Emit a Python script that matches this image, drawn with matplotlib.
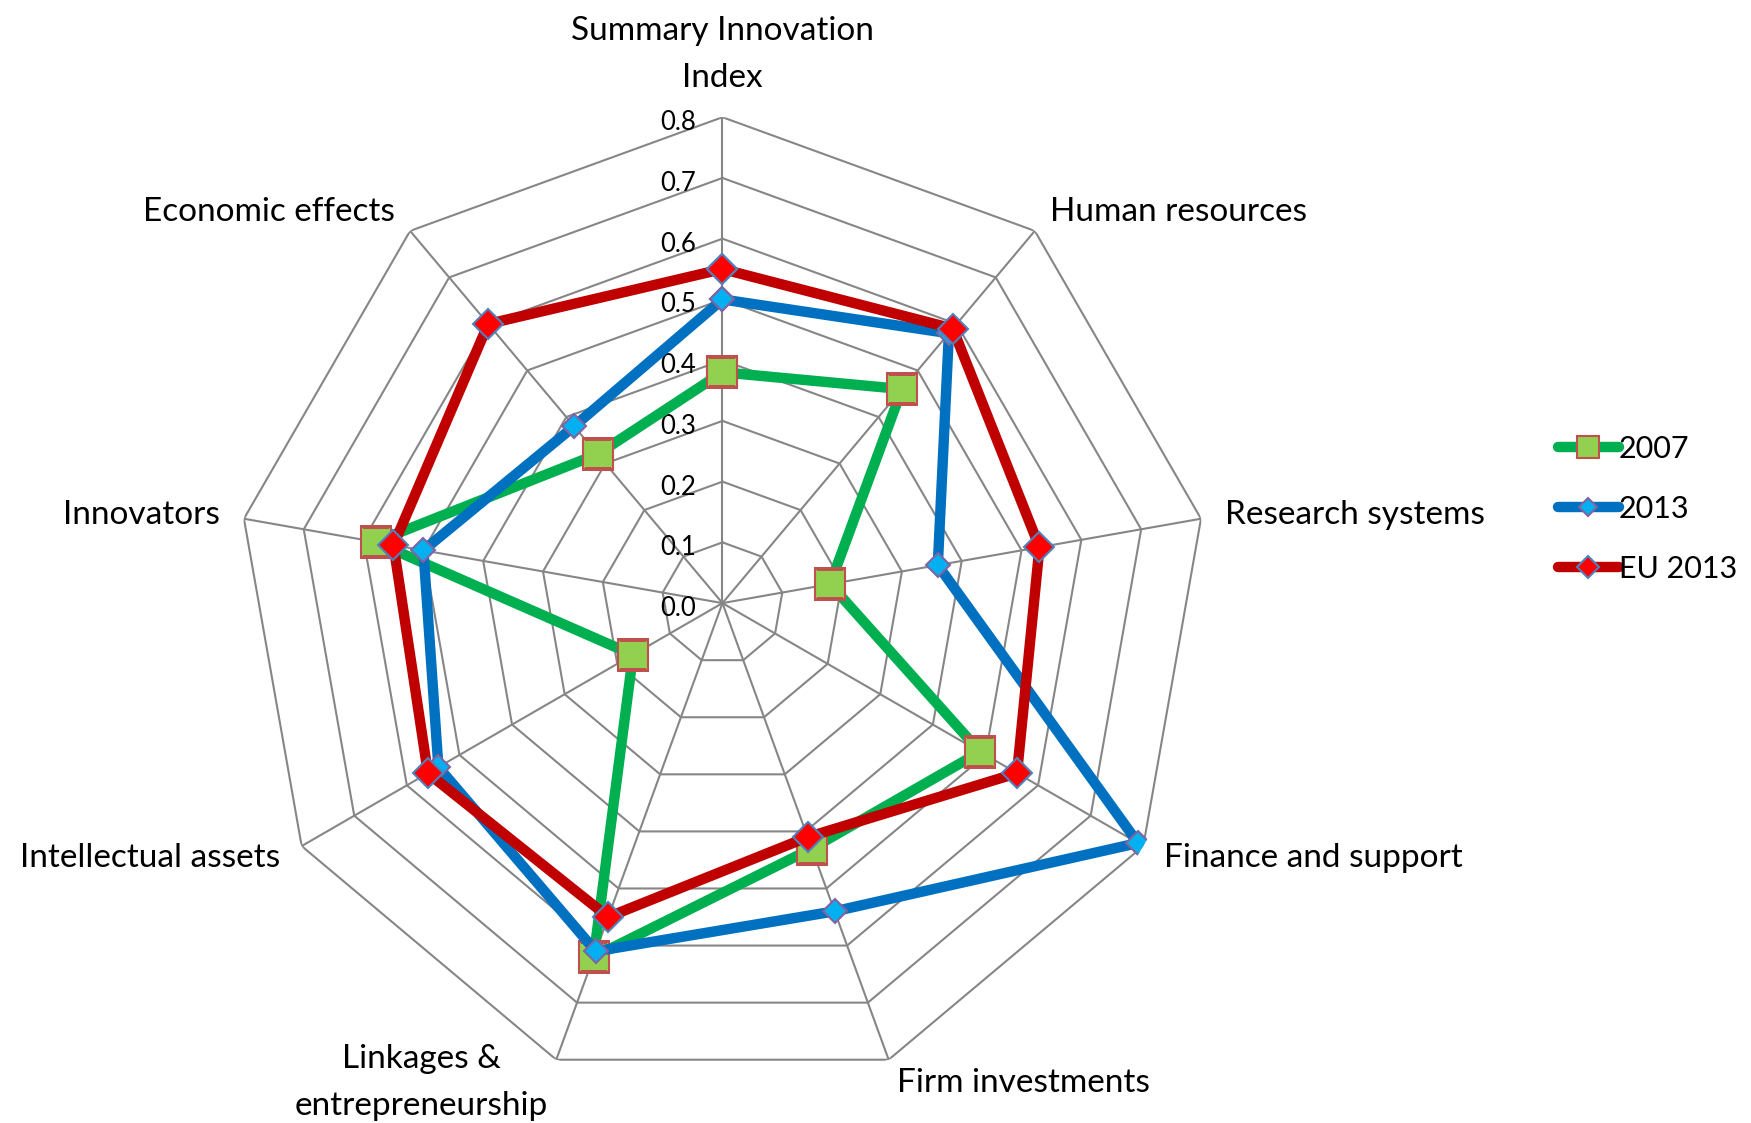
import numpy as np
import matplotlib
matplotlib.use('Agg')
import matplotlib.pyplot as plt

plt.rcParams['font.family'] = ['Lato', 'DejaVu Sans']

# categories, clockwise from the top
categories = ['Summary Innovation\nIndex', 'Human resources', 'Research systems',
              'Finance and support', 'Firm investments', 'Linkages &\nentrepreneurship',
              'Intellectual assets', 'Innovators', 'Economic effects']

# values
vals_2007 = [0.38, 0.46, 0.18, 0.49, 0.43, 0.62, 0.17, 0.58, 0.32]
vals_2013 = [0.50, 0.58, 0.36, 0.79, 0.54, 0.61, 0.54, 0.50, 0.38]
vals_eu = [0.55, 0.59, 0.53, 0.56, 0.41, 0.55, 0.56, 0.55, 0.60]

ticks = [0.0, 0.1, 0.2, 0.3, 0.4, 0.5, 0.6, 0.7, 0.8]

n = len(categories)
angles = np.linspace(0, 2 * np.pi, n, endpoint=False)
ang_closed = np.append(angles, angles[0])

def closed(v):
    return np.append(v, v[0])

fig = plt.figure(figsize=(17.51, 11.23), dpi=100)
ax = fig.add_axes([0.1351, 0.0302, 0.555, 0.8655], projection='polar')
ax.set_theta_zero_location('N')
ax.set_theta_direction(-1)
ax.set_ylim(0, 0.8)
ax.grid(False)
ax.spines['polar'].set_visible(False)
ax.set_xticks([])
ax.set_yticks([])
ax.patch.set_alpha(0)

grid_col = '#868686'
# polygon rings
for t in ticks[1:]:
    ax.plot(ang_closed, [t] * (n + 1), color=grid_col, lw=1.5, zorder=1)
# spokes
for a in angles:
    ax.plot([a, a], [0, 0.8], color=grid_col, lw=1.5, zorder=1)

# tick labels along the top spoke
for t in ticks:
    ax.annotate('%.1f' % t, xy=(0, t), xytext=(-19, -4), textcoords='offset points',
                ha='right', va='center', fontsize=18.5, color='black')

# category labels
for a, lab in zip(np.degrees(angles), categories):
    if a == 0:
        ha, va = 'center', 'bottom'
    elif a < 180:
        ha, va = 'left', 'center'
    else:
        ha, va = 'right', 'center'
    ax.text(np.radians(a), 0.84, lab, ha=ha, va=va, fontsize=24,
            multialignment='center', linespacing=1.7)

ax.plot(ang_closed, closed(vals_2007), color='#00B050', lw=7.5, marker='s', ms=21,
        mfc='#92D050', mec='#C0504D', mew=1.5, solid_joinstyle='round',
        solid_capstyle='round', label='2007', zorder=3)
ax.plot(ang_closed, closed(vals_2013), color='#0070C0', lw=7.5, marker='D', ms=12.5,
        mfc='#00B0F0', mec='#8064A2', mew=1.5, solid_joinstyle='round',
        solid_capstyle='round', label='2013', zorder=4)
ax.plot(ang_closed, closed(vals_eu), color='#C00000', lw=7.5, marker='D', ms=15,
        mfc='#FF0000', mec='#4F81BD', mew=1.5, solid_joinstyle='round',
        solid_capstyle='round', label='EU 2013', zorder=5)

leg = fig.legend(loc='center left', bbox_to_anchor=(0.874, 0.547), frameon=False,
                 fontsize=22, handlelength=2.0, handletextpad=0.0, labelspacing=1.05,
                 markerscale=0.75)

fig.savefig('out.png', dpi=100)
